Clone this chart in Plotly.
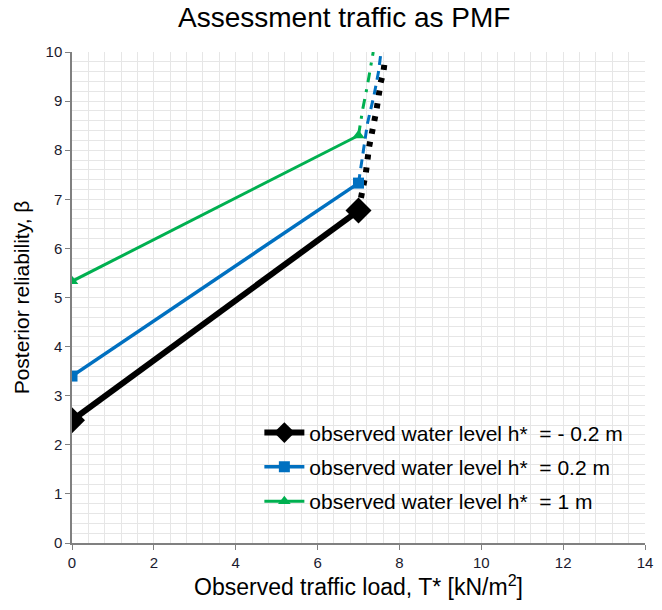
import plotly.graph_objects as go

# Observed traffic load T* and posterior reliability at the two observed points
T_obs = [0, 7]
beta_h_neg02 = [2.50, 6.77]
beta_h_02 = [3.40, 7.33]
beta_h_1 = [5.33, 8.30]

# Continuations beyond T* = 7 (no legend entries)
tail_T_neg02 = [7.00, 7.18, 7.26, 7.32, 7.44, 7.54, 7.61, 7.65]
tail_beta_neg02 = [6.77, 7.54, 8.07, 8.31, 8.82, 9.37, 9.60, 9.87]
tail_T_02 = [7.00, 7.10, 7.22, 7.38, 7.49, 7.55]
tail_beta_02 = [7.33, 7.93, 8.55, 9.12, 9.60, 10.00]
tail_T_1 = [7.00, 7.10, 7.22, 7.30, 7.36]
tail_beta_1 = [8.30, 8.82, 9.33, 9.70, 10.00]

names = ["observed water level h*  = - 0.2 m",
         "observed water level h*  = 0.2 m",
         "observed water level h*  = 1 m"]

BLACK = "#000000"
BLUE = "#0070C0"
GREEN = "#00B050"

fig = go.Figure()

# tails first (drawn under)
fig.add_trace(go.Scatter(x=tail_T_neg02, y=tail_beta_neg02, mode="lines", showlegend=False,
                         line=dict(color=BLACK, width=6, dash="5px,8px"), hoverinfo="skip"))
fig.add_trace(go.Scatter(x=tail_T_02, y=tail_beta_02, mode="lines", showlegend=False,
                         line=dict(color=BLUE, width=3, dash="9px,6px"), hoverinfo="skip"))
fig.add_trace(go.Scatter(x=tail_T_1, y=tail_beta_1, mode="lines", showlegend=False,
                         line=dict(color=GREEN, width=3, dash="10px,7px,3px,7px"), hoverinfo="skip"))

fig.add_trace(go.Scatter(x=T_obs, y=beta_h_neg02, mode="lines+markers", name=names[0],
                         legendgroup="g1",
                         line=dict(color=BLACK, width=6),
                         marker=dict(symbol="diamond", size=20, color=BLACK)))
fig.add_trace(go.Scatter(x=T_obs, y=beta_h_02, mode="lines+markers", name=names[1],
                         legendgroup="g2",
                         line=dict(color=BLUE, width=3.5),
                         marker=dict(symbol="square", size=11, color=BLUE)))
fig.add_trace(go.Scatter(x=T_obs, y=beta_h_1, mode="lines+markers", name=names[2],
                         legendgroup="g3",
                         line=dict(color=GREEN, width=3),
                         marker=dict(symbol="triangle-up", size=11, color=GREEN)))

grid = "#E6E6E6"
fig.update_layout(
    width=662, height=610,
    margin=dict(l=72, r=9, t=52, b=67),
    paper_bgcolor="white", plot_bgcolor="white",
    font=dict(family="Liberation Sans, Arial, sans-serif", color="#000000"),
    title=dict(text="Assessment traffic as PMF", x=0.52, xanchor="center", y=0.972, yanchor="middle",
               font=dict(size=28, color="#000000")),
    showlegend=True,
    legend=dict(x=0.327, y=0.266, xanchor="left", yanchor="top", bgcolor="rgba(0,0,0,0)",
                font=dict(size=21, color="#000000"), tracegroupgap=4, itemwidth=40,
                traceorder="grouped"),
    shapes=[dict(type="rect", xref="paper", yref="paper", x0=0.289, x1=0.987, y0=0.035, y1=0.271,
                 fillcolor="white", line=dict(width=0), layer="between")],
    xaxis=dict(range=[0, 14], dtick=2, tick0=0, showgrid=True, gridcolor=grid, gridwidth=1,
               minor=dict(dtick=0.4, showgrid=True, gridcolor=grid, ticks=""),
               showline=True, linecolor="#808080", linewidth=1.5, ticks="outside", ticklen=5,
               tickcolor="#808080", tickfont=dict(size=15, color="#1a1a2e"), zeroline=False,
               title=dict(text="Observed traffic load, T* [kN/m<sup>2</sup>]", font=dict(size=23), standoff=6)),
    yaxis=dict(range=[0, 10], dtick=1, tick0=0, showgrid=True, gridcolor=grid, gridwidth=1,
               minor=dict(dtick=0.2, showgrid=True, gridcolor=grid, ticks=""),
               showline=True, linecolor="#808080", linewidth=1.5, ticks="outside", ticklen=5,
               tickcolor="#808080", tickfont=dict(size=15, color="#1a1a2e"), zeroline=False,
               title=dict(text="Posterior reliability, β", font=dict(size=21), standoff=10)),
)

fig.write_html("out.html")
